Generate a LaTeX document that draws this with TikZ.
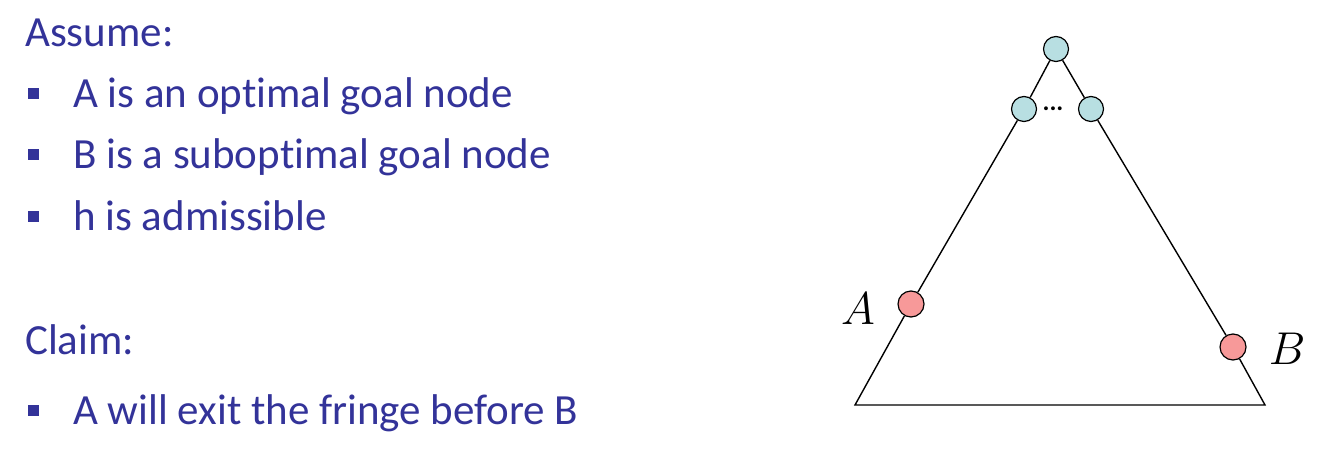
\documentclass[tikz,border=0pt]{standalone}
\usepackage{fix-cm}
\usepackage{fontspec}
\setmainfont{Carlito}[RawFeature={-liga;-clig;-dlig}]
\usepackage{tikz}
\usetikzlibrary{positioning,backgrounds}
\definecolor{cT}{HTML}{333399}
\definecolor{cN}{HTML}{B8DFE2}
\definecolor{cR}{HTML}{F79999}
\tikzset{
  txt/.style={anchor=base west,inner sep=0pt,text=cT,font=\fontsize{43}{50}\selectfont},
  sq/.style={rectangle,fill=cT,minimum size=11pt,inner sep=0pt},
  tnode/.style={circle,draw=black,line width=1.2pt,fill=cN,minimum size=25pt,inner sep=0pt},
  goal/.style={circle,draw=black,line width=1.2pt,fill=cR,minimum size=26pt,inner sep=0pt},
  lbl/.style={inner sep=0pt,font=\fontsize{46}{50}\selectfont},
  edge/.style={line width=1.4pt,black},
}

\begin{document}
\begin{tikzpicture}[x=1pt,y=-1pt]
  \useasboundingbox (0,0) rectangle (1332,449);
  % the assumptions and the claim
  \node[txt] (assume) at (25,47) {Assume:};
  \node[txt] (b1) at (73,108) {A is an optimal goal node};
  \node[txt] (b2) at (73,169) {B is a suboptimal goal node};
  \node[txt] (b3) at (73,230) {h is admissible};
  \node[txt] (claim) at (25,354) {Claim:};
  \node[txt] (b4) at (73,424) {A will exit the fringe before B};
  \node[sq] (s1) at (33,94) {};
  \node[sq] (s2) at (33,155) {};
  \node[sq] (s3) at (33,216) {};
  \node[sq] (s4) at (33,410) {};
  % the search tree
  \node[tnode] (root) at (1056,49) {};
  \node[tnode] (lc) at (1024,109) {};
  \node[tnode] (rc) at (1091,109) {};
  \node[inner sep=0pt,font=\fontsize{26}{26}\selectfont] (dots) at (1053,109) {\textbf{...}};
  \node[goal] (A) at (911,304) {};
  \node[goal] (B) at (1233,347) {};
  \node[lbl] (la) at (858,309) {$A$};
  \node[lbl] (lb) at (1287,349) {$B$};
  \coordinate (bl) at (855,405);
  \coordinate (br) at (1265,405);
  \begin{scope}[on background layer]
    \draw[edge] (root) -- (lc) -- (A) -- (bl) -- (br) -- (B) -- (rc) -- (root);
  \end{scope}
\end{tikzpicture}
\end{document}
